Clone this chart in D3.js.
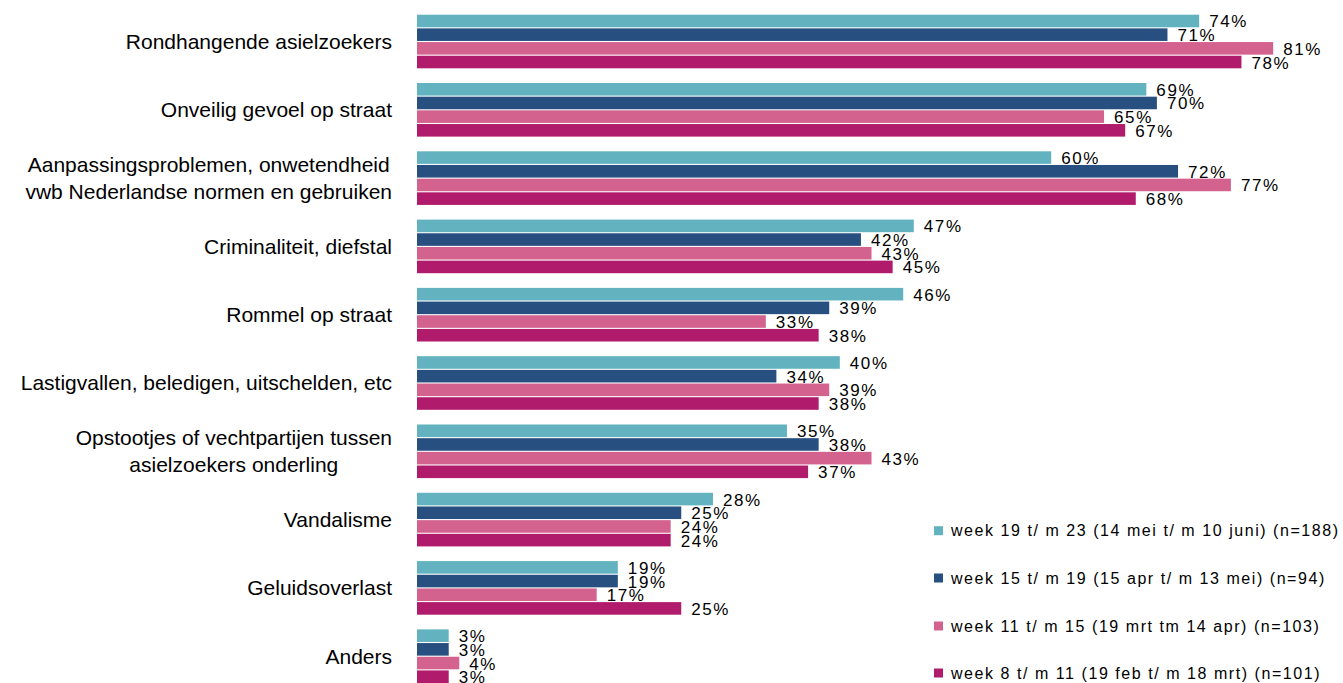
<!DOCTYPE html>
<html>
<head>
<meta charset="utf-8">
<script src="https://cdn.jsdelivr.net/npm/d3@7"></script>
<style>
  body { margin: 0; background: #fff; }
  svg { display: block; font-family: "Liberation Sans", Arial, sans-serif; }
</style>
</head>
<body>
<svg id="chart" width="1343" height="683"></svg>
<script>
// categories, top to bottom (multi-line labels split with |)
var categories = [
  "Rondhangende asielzoekers",
  "Onveilig gevoel op straat",
  "Aanpassingsproblemen, onwetendheid|vwb Nederlandse normen en gebruiken",
  "Criminaliteit, diefstal",
  "Rommel op straat",
  "Lastigvallen, beledigen, uitschelden, etc",
  "Opstootjes of vechtpartijen tussen|asielzoekers onderling",
  "Vandalisme",
  "Geluidsoverlast",
  "Anders"
];

var seriesNames = [
  "week 19 t/ m 23 (14 mei t/ m 10 juni) (n=188)",
  "week 15 t/ m 19 (15 apr t/ m 13 mei) (n=94)",
  "week 11 t/ m 15 (19 mrt tm 14 apr) (n=103)",
  "week 8 t/ m 11 (19 feb t/ m 18 mrt) (n=101)"
];
var seriesColors = ["#62b3bf", "#274f80", "#d3628e", "#b01b6c"];

// values in %, one array per series, same order as categories
var week19_23 = [74, 69, 60, 47, 46, 40, 35, 28, 19, 3];
var week15_19 = [71, 70, 72, 42, 39, 34, 38, 25, 19, 3];
var week11_15 = [81, 65, 77, 43, 33, 39, 43, 24, 17, 4];
var week8_11  = [78, 67, 68, 45, 38, 38, 37, 24, 25, 3];
var seriesValues = [week19_23, week15_19, week11_15, week8_11];

var svg = d3.select("#chart");

var x = d3.scaleLinear().domain([0, 100]).range([417, 1474]);

var y = d3.scaleBand()
  .domain(categories)
  .range([14.7, 683])
  .paddingInner(0.215)
  .paddingOuter(0);

var ySub = d3.scaleBand()
  .domain(d3.range(seriesValues.length))
  .range([0, y.bandwidth()])
  .paddingInner(0.08);

// bars
var groups = svg.selectAll("g.cat")
  .data(categories)
  .enter().append("g")
  .attr("class", "cat")
  .attr("transform", function(d) { return "translate(0," + y(d) + ")"; });

groups.each(function(cat, ci) {
  var g = d3.select(this);
  seriesValues.forEach(function(vals, si) {
    g.append("rect")
      .attr("x", x(0))
      .attr("y", ySub(si))
      .attr("width", x(vals[ci]) - x(0))
      .attr("height", ySub.bandwidth())
      .attr("fill", seriesColors[si]);
  });
  seriesValues.forEach(function(vals, si) {
    g.append("text")
      .attr("x", x(vals[ci]) + 10)
      .attr("y", ySub(si) + ySub.bandwidth() / 2 + 1)
      .attr("dominant-baseline", "central")
      .style("font-size", "17px")
      .style("letter-spacing", "1.6px")
      .attr("fill", "#000")
      .text(vals[ci] + "%");
  });
});

// category labels: block right aligned, lines centred inside the block
var labelRight = 392;
groups.each(function(cat) {
  var lines = cat.split("|");
  var g = d3.select(this);
  var lh = 27;
  var mid = y.bandwidth() / 2;
  var texts = lines.map(function(l, i) {
    return g.append("text")
      .attr("y", mid + (i - (lines.length - 1) / 2) * lh)
      .attr("dominant-baseline", "central")
      .style("font-size", "21px")
      .attr("fill", "#000")
      .text(l);
  });
  var widths = texts.map(function(t) { return t.node().getComputedTextLength(); });
  var blockW = d3.max(widths);
  var center = labelRight - blockW / 2;
  texts.forEach(function(t) {
    t.attr("x", center).attr("text-anchor", "middle");
  });
});

// legend
var legend = svg.append("g");
var legendY = [530.7, 578, 626, 673];
seriesNames.forEach(function(name, i) {
  legend.append("rect")
    .attr("x", 934)
    .attr("y", legendY[i] - 4.5)
    .attr("width", 9)
    .attr("height", 9)
    .attr("fill", seriesColors[i]);
  legend.append("text")
    .attr("x", 951)
    .attr("y", legendY[i])
    .attr("dominant-baseline", "central")
    .style("font-size", "16px")
    .style("letter-spacing", "1.55px")
    .attr("fill", "#000")
    .text(name);
});
</script>
</body>
</html>
